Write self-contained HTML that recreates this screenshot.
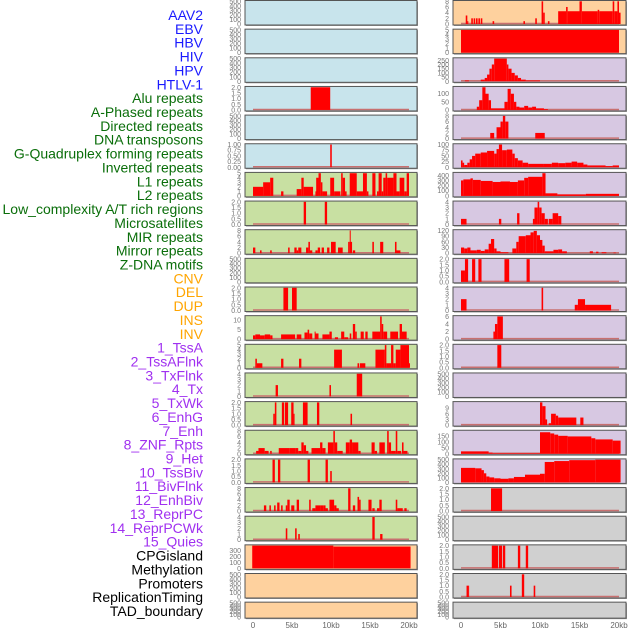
<!DOCTYPE html>
<html><head><meta charset="utf-8"><style>
body{margin:0;background:#fff;}
svg{display:block;font-family:"Liberation Sans",sans-serif;}
</style></head><body>
<svg id="chart" width="630" height="630" viewBox="0 0 630 630"></svg>
<script>
const labelNames=["AAV2","EBV","HBV","HIV","HPV","HTLV-1","Alu repeats","A-Phased repeats","Directed repeats","DNA transposons","G-Quadruplex forming repeats","Inverted repeats","L1 repeats","L2 repeats","Low_complexity A/T rich regions","Microsatellites","MIR repeats","Mirror repeats","Z-DNA motifs","CNV","DEL","DUP","INS","INV","1_TssA","2_TssAFlnk","3_TxFlnk","4_Tx","5_TxWk","6_EnhG","7_Enh","8_ZNF_Rpts","9_Het","10_TssBiv","11_BivFlnk","12_EnhBiv","13_ReprPC","14_ReprPCWk","15_Quies","CPGisland","Methylation","Promoters","ReplicationTiming","TAD_boundary"];
const labelGroups=[0,0,0,0,0,0,1,1,1,1,1,1,1,1,1,1,1,1,1,2,2,2,2,2,3,3,3,3,3,3,3,3,3,3,3,3,3,3,3,4,4,4,4,4];
const xTickLabels=["0","5kb","10kb","15kb","20kb"];
const xTickKb=[0,5,10,15,20];
// left column segments [startKb,endKb,value]
const L0=[],L1=[],L2=[],L4=[],L9=[],L20=[],L21=[];
const L3=[[7.4,9.9,2]];
const L5=[[9.9,10.1,1]];
const L6=[[0,1.3,2],[1.3,2.2,3],[2.2,2.6,4],[3.6,3.9,1],[5.6,6.2,1.5],[6.2,6.5,4],[6.5,7.7,2],[8.0,8.3,1],[8.1,8.4,4],[8.4,8.7,5],[8.7,8.9,3],[8.9,9.5,1],[9.9,10.4,4],[10.4,11.2,1],[11.3,11.5,5],[11.5,11.8,4],[11.8,12,1],[12.4,13.3,5],[13.3,14.1,1],[14.1,14.6,5],[14.6,14.8,1],[15.3,15.7,5],[15.9,16.1,1],[16.1,16.5,5],[16.5,16.7,1],[16.7,17,4],[17,17.2,5],[17.2,18,4],[18,18.4,5],[18.4,18.8,1],[18.8,19.4,4],[19.4,19.7,1],[19.7,20,5]];
const L7=[[6.5,6.8,2],[9.2,9.5,2]];
const L8=[[0,0.3,2],[0.9,1.1,1],[2.2,2.4,1],[4.5,4.7,2],[5.3,5.6,2],[5.6,5.8,1],[5.8,6.2,2],[6.8,7.1,2],[7.1,7.3,4],[7.3,7.6,1],[8.0,8.3,1],[8.3,8.6,2],[8.8,9.1,2],[9.5,9.8,2],[10,10.6,4],[10.9,11.5,2],[12.2,12.4,4],[12.4,12.5,8],[12.5,12.7,4],[12.8,13.1,1],[15.3,15.5,4],[16.3,16.7,4],[18.2,18.4,4],[18.4,18.9,1]];
const L10=[[3.9,4.5,2],[5,5.6,2]];
const L11=[[0,0.3,2],[0.3,0.9,2.5],[0.9,1.5,2],[1.5,2.2,2.5],[2.2,2.5,2],[3.6,5.4,2.5],[5.6,6.2,2.5],[6.6,7,3.5],[7,7.2,5],[7.2,7.6,3],[7.9,8,4],[8,8.4,3],[8.9,9.8,2.5],[9.8,10.1,4],[10.5,10.9,1],[11.3,11.7,4],[11.7,12.2,1],[12.4,12.6,3],[12.8,13.1,8],[13.1,13.3,4],[13.8,14.2,4],[14.4,14.7,4],[15.3,16.3,4],[16.3,16.5,12],[16.5,16.7,8],[16.7,17.2,4],[17.6,18.6,4],[18.8,19.1,8],[19.1,19.7,4]];
const L12=[[0.3,0.5,2],[0.5,1.2,1],[3.6,3.9,2],[5.9,6.2,2],[10.4,11.4,4],[13.4,13.6,1],[13.7,14.4,1],[15.7,16.9,4],[16.9,17.1,5],[17.1,17.7,1],[17.7,18,5],[18,18.3,1],[18.3,18.9,4],[18.9,20,5],[20,20.1,1]];
const L13=[[2.9,3.2,2],[9.8,10,2],[13.3,14,4]];
const L14=[[2.6,2.8,1],[2.8,3.0,2],[3.7,4,2],[4.1,4.5,2],[4.9,5.2,2],[5.2,5.3,1],[6.4,7,2],[8.2,8.5,2],[12.5,12.7,1]];
const L15=[[0.4,0.7,1],[0.7,1.5,2],[1.5,2.0,1],[2.2,2.4,1],[3.3,4.7,2],[4.7,5.4,2],[5.4,5.8,2],[5.8,6.2,1],[6.2,6.5,4],[6.5,6.8,3],[6.8,7.1,1],[7.5,8.6,2],[8.6,8.9,4],[8.9,9.3,2],[9.6,10.3,4],[10.3,10.5,8],[10.5,10.8,4],[10.8,11.5,1],[11.9,12.4,4],[12.4,12.7,5],[12.7,13.5,4],[13.5,13.8,1],[15.2,15.6,4],[15.6,15.9,1],[16.2,16.9,4],[17.2,17.4,8],[17.4,17.7,4],[17.7,18.3,1],[18.3,18.5,8],[18.5,19.0,1],[19.1,19.3,4],[19.3,19.8,1]];
const L16=[[2.5,2.8,2],[3.2,3.5,2],[7,7.3,2],[9.3,9.6,2],[9.9,10.1,1]];
const L17=[[1.4,1.7,2],[2.1,2.3,2],[2.7,2.9,2],[3.1,3.4,3],[3.6,3.8,2],[4.2,4.4,2],[4.4,4.7,4],[4.9,5.3,2],[5.6,5.9,4],[7.2,7.4,4],[7.6,8.0,1],[8.0,8.6,2],[8.6,9.0,2],[9.0,9.3,2],[9.3,9.6,1],[9.8,10.4,4],[10.4,10.7,2],[10.7,11,1],[12.2,12.5,8],[12.8,13.1,2],[13.4,13.6,5],[13.6,13.8,4],[14.8,15.2,4],[15.3,15.6,1],[15.9,16.2,1],[16.2,16.5,4],[18.3,18.5,4],[18.5,19.2,1],[19.4,19.7,1]];
const L18=[[4.2,4.4,2],[5.4,5.6,2],[5.8,6.0,1],[15.3,15.6,4],[16.3,16.6,1]];
const L19=[[-0.1,10.3,380],[10.3,20.2,365]];
// right column segments
const R13=[],R18=[],R21=[];
const R0=[[0.6,0.8,3],[0.8,0.9,1],[1.3,1.5,2],[1.6,1.8,2],[1.9,2.1,2],[2.2,2.4,2],[2.5,2.7,2],[4.0,4.2,1],[7.9,8.1,1],[9.4,9.6,2],[10.2,10.4,8],[10.4,10.6,4],[11.0,11.2,1],[12.3,13.3,4.5],[13.3,13.5,6],[13.5,15,4.5],[15,15.3,8],[15.3,17.3,4.5],[17.3,17.5,5],[17.5,19.2,4.5],[19.2,19.4,8],[19.4,19.8,4.5],[19.8,20,8],[20,20.2,4]];
const R1=[[0,20,5]];
const R2=[[0.5,1.0,10],[2.5,3,20],[3,3.3,40],[3.3,3.6,80],[3.6,3.9,150],[3.9,4.2,200],[4.2,5.8,270],[5.8,6,200],[6,6.4,150],[6.4,6.8,100],[6.8,7.2,70],[7.2,7.6,40],[7.6,8.2,20],[8.2,10,10]];
const R3=[[2.0,2.3,20],[2.3,2.7,60],[2.7,3.1,140],[3.1,3.5,100],[3.5,3.8,60],[3.8,5.5,10],[5.5,5.9,50],[5.9,6.3,130],[6.3,6.7,100],[6.7,7.0,50],[7.0,7.4,20],[7.4,8.0,15],[8.0,8.5,25],[8.5,9,15],[9,9.5,20],[9.5,10.5,10],[10.5,11,5]];
const R4=[[3.7,4.2,2],[4.5,5,4],[5,5.3,6],[5.3,5.6,8],[5.6,6.0,6],[9.4,10.6,2]];
const R5=[[0,0.2,30],[0.2,0.4,20],[0.4,0.8,10],[0.8,1.1,20],[1.1,1.4,35],[1.4,1.8,50],[1.8,2.5,60],[2.5,3.3,65],[3.3,4.2,72],[4.2,4.5,60],[4.5,4.8,80],[4.8,5.2,100],[5.2,5.8,75],[5.8,6.5,78],[6.5,6.8,60],[6.8,7.2,40],[7.2,7.8,30],[7.8,8.5,20],[8.5,10.5,15],[10.5,11.5,15],[11.5,12.3,20],[12.3,13.2,18],[13.2,14,20],[14,14.7,25],[14.7,15.5,20],[15.5,16,12],[16,18.3,8],[18.3,19.2,5],[19.2,20,8]];
const R6=[[0,0.3,300],[0.3,1.2,320],[1.2,1.5,340],[1.5,2.5,310],[2.5,4,290],[4,5,270],[5,6.2,280],[6.2,7.2,270],[7.2,8,300],[8,8.5,350],[8.5,10.3,370],[10.3,10.7,440],[10.7,12.2,50],[12.2,15.8,30],[15.8,20,40]];
const R7=[[0,0.7,1],[4.8,5.1,1],[7.1,7.4,2],[9.1,9.3,1],[9.3,9.7,3],[9.7,9.9,4],[9.9,10.2,3],[10.2,10.6,2],[10.6,11.0,1],[11.1,11.6,1],[11.6,12.3,2],[12.3,12.7,1.5]];
const R8=[[0,0.4,30],[0.4,0.8,25],[0.8,1.2,30],[1.2,2,15],[2,2.5,18],[2.5,3,12],[3,3.5,20],[3.5,3.8,50],[3.8,4.2,75],[4.2,4.5,25],[4.5,5,10],[5,6,5],[6.5,7,25],[7,7.3,60],[7.3,8.2,90],[8.2,8.8,95],[8.8,9.2,110],[9.2,9.6,118],[9.6,10,95],[10,10.3,70],[10.3,10.6,40],[10.6,11.7,10],[11.7,12.3,18],[12.3,12.8,20],[12.8,13.4,10],[16.3,16.7,10],[17.1,17.4,8],[17.8,18.4,5],[19.3,19.6,3]];
const R9=[[0,0.5,1],[0.5,0.9,2],[1.4,1.8,2],[2.2,2.6,2],[5.5,6.1,2],[8.3,8.7,2]];
const R10=[[0,0.7,2],[10.2,10.4,4],[14.4,14.8,1],[14.8,15.7,2],[15.7,19.0,1]];
const R11=[[4.1,4.3,2],[4.3,4.6,4],[4.6,5.3,6]];
const R12=[[4.6,5.1,2]];
const R14=[[10,10.3,12],[10.3,10.7,10],[10.7,10.9,3],[11.1,11.4,1],[11.4,12,6],[12,12.3,5],[12.3,14.6,4],[15.1,15.5,4]];
const R15=[[0,3.5,20],[3.5,4,10],[4,10,5],[10,11.3,180],[11.3,11.8,170],[11.8,12.3,160],[12.3,13.5,150],[13.5,16.5,145],[16.5,17,130],[17,19.2,120],[19.2,20.2,110]];
const R16=[[0,1.8,320],[1.8,2.6,310],[2.6,2.9,270],[2.9,3.2,200],[3.2,3.6,130],[3.6,4.2,110],[4.2,5,90],[5,6,80],[6,6.7,90],[6.7,8.1,120],[8.1,10.0,170],[10,10.6,190],[10.6,11.8,450],[11.8,13.7,470],[13.7,17,490],[17,20.2,500]];
const R17=[[3.8,5.2,2]];
const R19=[[3.9,4.7,2],[4.8,5.2,2],[5.3,5.6,2],[7.2,7.5,2],[8.2,8.5,2]];
const R20=[[0.7,0.9,1],[0.9,1.0,1],[6.2,6.4,1],[7.7,8.0,2],[9.2,9.4,1]];

const T500=["0","100","200","300","400","500"], T2=["0.0","0.5","1.0","1.5","2.0"];
const leftSegs=[L0,L1,L2,L3,L4,L5,L6,L7,L8,L9,L10,L11,L12,L13,L14,L15,L16,L17,L18,L19,L20,L21];
const leftMax=[500,500,500,2,500,1,5,2,8,500,2,12,5,4,2,8,2,8,4,380,500,500];
const leftTicks=[T500,T500,T500,T2,T500,["0.00","0.25","0.50","0.75","1.00"],["0","1","2","3","4","5"],T2,["0","2","4","6","8"],T500,T2,["0","5","10"],["0","1","2","3","4","5"],["0","1","2","3","4"],T2,["0","2","4","6","8"],T2,["0","2","4","6","8"],["0","1","2","3","4"],["0","100","200","300"],T500,T500];
const leftBg=["#c8e4ec","#c8e4ec","#c8e4ec","#c8e4ec","#c8e4ec","#c8e4ec","#c8e0a2","#c8e0a2","#c8e0a2","#c8e0a2","#c8e0a2","#c8e0a2","#c8e0a2","#c8e0a2","#c8e0a2","#c8e0a2","#c8e0a2","#c8e0a2","#c8e0a2","#fed19e","#fed19e","#fed19e"];
const rightSegs=[R0,R1,R2,R3,R4,R5,R6,R7,R8,R9,R10,R11,R12,R13,R14,R15,R16,R17,R18,R19,R20,R21];
const rightMax=[8,5,270,140,8,100,440,4,120,2,4,6,2,500,12,190,500,2,500,2,2,500];
const rightTicks=[["0","2","4","6","8"],["0","1","2","3","4","5"],["0","50","100","150","200","250"],["0","50","100"],["0","2","4","6","8"],["0","25","50","75","100"],["0","100","200","300","400"],["0","1","2","3","4"],["0","30","60","90","120"],T2,["0","1","2","3","4"],["0","2","4","6"],T2,T500,["0","3","6","9"],["0","50","100","150"],T500,T2,T500,T2,T2,T500];
const rightBg=["#fed19e","#fed19e","#d7c8e2","#d7c8e2","#d7c8e2","#d7c8e2","#d7c8e2","#d7c8e2","#d7c8e2","#d7c8e2","#d7c8e2","#d7c8e2","#d7c8e2","#d7c8e2","#d7c8e2","#d7c8e2","#d7c8e2","#d0d0d0","#d0d0d0","#d0d0d0","#d0d0d0","#d0d0d0"];

const NS="http://www.w3.org/2000/svg";
const svg=document.getElementById('chart');
function mk(tag,attrs,parent){const e=document.createElementNS(NS,tag);for(const k in attrs)e.setAttribute(k,attrs[k]);(parent||svg).appendChild(e);return e;}
const groupColors=["#1a1aff","#0a6e0a","#ffa500","#a030f0","#000000"];
labelNames.forEach((n,i)=>{
  const t=mk('text',{x:203,y:15+i*13.86+5,'text-anchor':'end','font-size':14,fill:groupColors[labelGroups[i]]});
  t.textContent=n;
  
  
});
const cols=[{x0:245,x1:417,d0:253,d1:409,segs:leftSegs,max:leftMax,ticks:leftTicks,bg:leftBg,name:'left'},
            {x0:453,x1:626,d0:461,d1:619,segs:rightSegs,max:rightMax,ticks:rightTicks,bg:rightBg,name:'right'}];
cols.forEach(c=>{
  const xs=kb=>c.d0+(c.d1-c.d0)*kb/20;
  for(let i=0;i<22;i++){
    const top=i*28.65+0.5, h=(i===21)?16:24.5;
    const g=mk('g',{});
    
    
    mk('rect',{x:c.x0+1,y:top+1,width:c.x1-c.x0,height:h,fill:'#999'},g);
    const bg=mk('rect',{x:c.x0,y:top,width:c.x1-c.x0,height:h,fill:c.bg[i],stroke:'#555','stroke-width':1},g);
    
    
    const base=top+h-1, ph=h-1.8, ymax=c.max[i];
    const ys=v=>base-ph*v/ymax;
    const tk=c.ticks[i];
    tk.forEach(lab=>{
      const v=parseFloat(lab);
      const tt=mk('text',{x:c.x0-4,y:ys(v)+2.5,'text-anchor':'end','font-size':7,fill:'#777'},g);
      tt.textContent=lab;
      
      
    });
    const segs=c.segs[i];
    if(segs.length&&i!==19||(c.name==='right'&&segs.length)){
      mk('line',{x1:xs(0),x2:xs(20),y1:base-0.5,y2:base-0.5,stroke:'#c87070','stroke-width':1.5},g);
    }
    segs.forEach(s=>{
      const y=ys(s[2]);
      const r=mk('rect',{x:xs(s[0]),y:y,width:Math.max(1,xs(s[1])-xs(s[0])),height:base-y,fill:'#ff0000'},g);
      
      
    });
  }
  xTickKb.forEach((kb,j)=>{
    const t=mk('text',{x:xs(kb),y:628,'text-anchor':'middle','font-size':8,fill:'#666'});
    t.textContent=xTickLabels[j];
    
    
  });
});
</script>
</body></html>
